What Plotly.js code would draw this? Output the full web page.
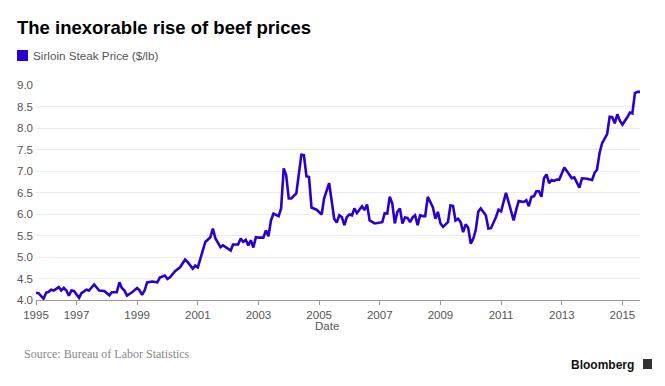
<!DOCTYPE html>
<html>
<head>
<meta charset="utf-8">
<script src="https://cdn.plot.ly/plotly-3.0.1.min.js"></script>
<style>
  html, body { margin: 0; padding: 0; background: #fff; }
  #chart { width: 665px; height: 386px; }
</style>
</head>
<body>
<div id="chart"></div>
<script>
// Sirloin steak price ($/lb), monthly readings
const dates = [
  '1995-09','1995-10','1995-12','1996-01','1996-02','1996-03','1996-04','1996-06','1996-07','1996-08',
  '1996-09','1996-10','1996-11','1996-12','1997-02','1997-03','1997-05','1997-06','1997-08','1997-09',
  '1997-10','1997-12','1998-02','1998-03','1998-05','1998-06','1998-07','1998-08','1998-09','1998-11',
  '1999-01','1999-02','1999-03','1999-04','1999-05','1999-07','1999-09','1999-10','1999-12','2000-01',
  '2000-02','2000-04','2000-06','2000-08','2000-09','2000-11','2000-12','2001-01','2001-02','2001-03',
  '2001-04','2001-06','2001-07','2001-08','2001-10','2001-11','2002-02','2002-03','2002-05','2002-06',
  '2002-07','2002-08','2002-09','2002-10','2002-11','2002-12','2003-01','2003-03','2003-04','2003-05',
  '2003-06','2003-07','2003-09','2003-10','2003-11','2003-12','2004-01','2004-02','2004-04','2004-05',
  '2004-06','2004-07','2004-08','2004-09','2004-10','2004-12','2005-02','2005-03','2005-05','2005-07',
  '2005-08','2005-09','2005-10','2005-11','2005-12','2006-01','2006-02','2006-03','2006-04','2006-06',
  '2006-07','2006-08','2006-09','2006-11','2007-02','2007-03','2007-04','2007-05','2007-06','2007-07',
  '2007-08','2007-09','2007-10','2007-11','2007-12','2008-01','2008-02','2008-03','2008-04','2008-05',
  '2008-06','2008-07','2008-08','2008-10','2008-11','2008-12','2009-01','2009-02','2009-04','2009-05',
  '2009-06','2009-07','2009-08','2009-09','2009-10','2009-11','2009-12','2010-01','2010-02','2010-03',
  '2010-04','2010-05','2010-07','2010-08','2010-09','2010-11','2010-12','2011-01','2011-02','2011-03',
  '2011-04','2011-06','2011-07','2011-08','2011-10','2011-11','2011-12','2012-01','2012-02','2012-03',
  '2012-04','2012-05','2012-06','2012-07','2012-08','2012-09','2012-10','2012-11','2012-12','2013-02',
  '2013-04','2013-05','2013-06','2013-07','2013-08','2013-09','2013-11','2014-01','2014-02','2014-03',
  '2014-04','2014-05','2014-07','2014-08','2014-09','2014-10','2014-11','2014-12','2015-01','2015-03',
  '2015-04','2015-05','2015-06','2015-07','2015-08'
];
const prices = [
  4.17,4.16,4.03,4.17,4.19,4.24,4.22,4.30,4.22,4.28,
  4.22,4.10,4.22,4.21,4.05,4.16,4.24,4.22,4.36,4.28,
  4.22,4.21,4.11,4.18,4.18,4.41,4.28,4.22,4.10,4.18,
  4.28,4.22,4.12,4.22,4.41,4.43,4.41,4.52,4.57,4.49,
  4.53,4.67,4.76,4.94,4.88,4.73,4.80,4.76,5.00,5.15,
  5.35,5.46,5.66,5.43,5.23,5.27,5.15,5.29,5.29,5.43,
  5.35,5.40,5.27,5.39,5.22,5.46,5.45,5.45,5.62,5.48,
  5.85,6.01,5.95,6.13,7.06,6.90,6.36,6.36,6.48,6.94,
  7.38,7.37,6.88,6.86,6.15,6.10,5.99,6.36,6.72,5.89,
  5.80,5.97,5.93,5.74,5.93,5.99,5.97,6.13,6.02,6.18,
  6.09,6.22,5.85,5.78,5.81,6.02,6.01,6.40,6.24,5.78,
  6.05,6.13,5.78,5.92,5.91,5.81,5.92,5.97,5.74,5.97,
  5.95,5.95,6.40,6.16,5.89,6.05,5.78,5.70,5.81,6.20,
  6.19,5.85,5.89,5.81,5.58,5.76,5.68,5.31,5.43,5.62,
  6.05,6.13,5.97,5.66,5.67,5.93,6.10,6.06,6.27,6.49,
  6.28,5.85,6.09,6.30,6.28,6.32,6.18,6.40,6.41,6.53,
  6.53,6.40,6.83,6.92,6.72,6.79,6.77,6.80,6.80,7.08,
  6.92,6.83,6.85,6.71,6.61,6.83,6.82,6.79,6.96,7.03,
  7.42,7.64,7.86,8.26,8.25,8.11,8.32,8.17,8.08,8.25,
  8.36,8.34,8.81,8.84,8.84
];
const xTickVals = ['1995-09','1997-01','1999-01','2001-01','2003-01','2005-01','2007-01','2009-01','2011-01','2013-01','2015-01'];
const xTickText = ['1995','1997','1999','2001','2003','2005','2007','2009','2011','2013','2015'];
const seriesName = 'Sirloin Steak Price ($/lb)';
const chartTitle = 'The inexorable rise of beef prices';
const sourceText = 'Source: Bureau of Labor Statistics';

const LINE = '#2b00cc';
const FONT = 'Liberation Sans, Arial, sans-serif';

const trace = {
  x: dates, y: prices, type: 'scatter', mode: 'lines', name: seriesName,
  line: { color: LINE, width: 2.6 }, showlegend: false, hoverinfo: 'x+y'
};

const layout = {
  width: 665, height: 386,
  margin: { l: 36, r: 25, t: 85, b: 86, pad: 0 },
  paper_bgcolor: '#fff', plot_bgcolor: '#fff',
  font: { family: FONT, color: '#555', size: 11.5 },
  title: {
    text: '<b>' + chartTitle + '</b>',
    font: { family: FONT, size: 18.5, color: '#000' },
    xref: 'container', yref: 'container',
    x: 17 / 665, xanchor: 'left',
    y: 1 - 28 / 386, yanchor: 'middle'
  },
  xaxis: {
    type: 'date',
    range: [dates[0], dates[dates.length - 1]],
    tickmode: 'array', tickvals: xTickVals, ticktext: xTickText,
    ticks: 'outside', ticklen: 4, tickcolor: '#999', tickwidth: 1,
    showline: true, linecolor: '#999', linewidth: 1,
    showgrid: false, zeroline: false,
    tickfont: { family: FONT, size: 11.5, color: '#555' }
  },
  yaxis: {
    range: [4, 9], dtick: 0.5, tick0: 4, tickformat: '.1f',
    ticks: '', showline: false, zeroline: false,
    gridcolor: '#ebebeb', gridwidth: 1,
    ticklabelstandoff: 2,
    tickfont: { family: FONT, size: 11.5, color: '#555' }
  },
  shapes: [
    { type: 'rect', xref: 'paper', yref: 'paper', xsizemode: 'pixel', ysizemode: 'pixel',
      xanchor: 0, yanchor: 1, x0: -19, x1: -8, y0: 24, y1: 35,
      fillcolor: LINE, line: { width: 0 } },
    { type: 'rect', xref: 'paper', yref: 'paper', xsizemode: 'pixel', ysizemode: 'pixel',
      xanchor: 1, yanchor: 0, x0: 3, x1: 12, y0: -69, y1: -59,
      fillcolor: '#333', line: { width: 0 } }
  ],
  annotations: [
    { text: seriesName, xref: 'paper', yref: 'paper', x: 0, y: 1, xshift: -5, yshift: 30,
      xanchor: 'left', yanchor: 'middle', showarrow: false,
      font: { family: FONT, size: 11.7, color: '#555' } },
    { text: 'Date', xref: 'paper', yref: 'paper', x: (327 - 36) / 604, y: 0, yshift: -26,
      xanchor: 'center', yanchor: 'middle', showarrow: false,
      font: { family: FONT, size: 11.5, color: '#555' } },
    { text: sourceText, xref: 'paper', yref: 'paper', x: 0, y: 0, xshift: -14, yshift: -54,
      xanchor: 'left', yanchor: 'middle', showarrow: false,
      font: { family: 'Liberation Serif, Times New Roman, serif', size: 12, color: '#888' } },
    { text: '<b>Bloomberg</b>', xref: 'paper', yref: 'paper', x: 1, y: 0, xshift: -4, yshift: -65,
      xanchor: 'right', yanchor: 'middle', showarrow: false,
      font: { family: FONT, size: 12, color: '#111' } }
  ]
};

Plotly.newPlot('chart', [trace], layout, { displayModeBar: false, staticPlot: true });
</script>
</body>
</html>
